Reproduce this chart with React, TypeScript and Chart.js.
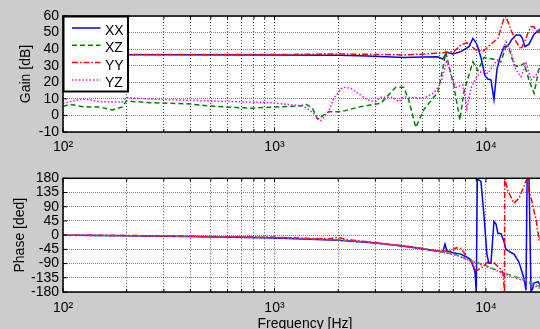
import React, { useEffect, useRef } from "react";
import { Chart, registerables } from "chart.js";

Chart.register(...registerables);

// ---------- data ----------
const FREQ_TICKS = [100, 200, 300, 400, 500, 600, 700, 800, 900, 1000, 2000, 3000, 4000, 5000, 6000, 7000, 8000, 9000, 10000, 20000];
const GAIN_TICKS = [-10, 0, 10, 20, 30, 40, 50, 60];
const PHASE_TICKS = [-180, -135, -90, -45, 0, 45, 90, 135, 180];
const SERIES_NAMES = ["XX", "XZ", "YY", "YZ"];

// Gain [dB]
const gainFreqXX = [100, 300, 1000, 2000, 2760, 4090, 5000, 5920, 6250, 6535, 6977, 7614, 8306, 8678, 8967, 9165, 9469, 9892, 10220, 10561, 10914, 11277, 11652, 12170, 12714, 13280, 13873, 14491, 14810, 15300, 15982, 16880, 18225, 19245];
const gainXX = [36.6, 36.6, 36.5, 36.3, 35.9, 35.0, 35.3, 35.4, 34.0, 38.1, 37.1, 38.5, 41.5, 46.5, 44, 41, 35, 24, 22, 21.5, 9.5, 28, 35, 41.5, 42, 46, 48.5, 48.5, 47, 41.5, 43, 49, 52.5, 55];

const gainFreqXZ = [100, 108, 124, 150, 171, 190, 199, 258, 400, 497, 770, 957, 1328, 1403, 1514, 1599, 1803, 2055, 2556, 3180, 3745, 4087, 4316, 4658, 5084, 5923, 6254, 6462, 7053, 7532, 7867, 8678, 9165, 9783, 10914, 11778, 12438, 12853, 13572, 14334, 15135, 15982, 16880, 17834, 19245];
const gainXZ = [5.3, 6.7, 5.3, 5.0, 3.3, 5.0, 8.7, 7.7, 6.9, 5.7, 4.3, 5.0, 5.7, 6.9, 4.3, -2.3, 2.2, 2.2, 5.3, 7.3, 17, 17, 9.3, -7.2, 3.5, 14, 28.4, 37.9, 17.7, -2.8, 14.3, 32.4, 27, 35, 33.9, 32.4, 41.5, 40.5, 30.4, 29.4, 31.4, 21.4, 13.3, 28.4, 30];

const gainFreqYY = [100, 1000, 1990, 3000, 4090, 5920, 7053, 7614, 8128, 8490, 8967, 9783, 10561, 11400, 12170, 12438, 13136, 13873, 14650, 15300, 15810, 16337, 16880, 17641, 18225, 19245];
const gainYY = [36.8, 36.7, 37.1, 36.8, 36.5, 37.5, 38.5, 42.5, 43.9, 42, 39.5, 39, 43, 46.5, 58.6, 59.6, 51.5, 44.5, 40, 45, 50, 53.5, 53.5, 49.5, 51.5, 50];

const gainFreqYZ = [100, 124, 150, 190, 199, 258, 450, 957, 1372, 1530, 1652, 1803, 1904, 2101, 2292, 2759, 3011, 3180, 3624, 3870, 4087, 4558, 5084, 5670, 6119, 6535, 6826, 7209, 7782, 8128, 8490, 8967, 9469, 10220, 11155, 11778, 12438, 13136, 13873, 14650, 15467, 16337, 17258, 18027, 19245];
const gainYZ = [7.3, 10, 8.3, 8, 10.7, 9.9, 8.9, 7.7, 5.7, 1.3, -3.2, 2.2, 10.3, 17, 16.4, 9.3, 8.3, 11, 11, 8.3, 11, 10.7, 10.3, 13.7, 19.4, 33.5, 24.4, 17, 18.4, 4.3, 16.4, 22.4, 26.4, 25.4, 32.4, 35.4, 44.5, 38.5, 27.4, 23.4, 31.4, 21.4, 24.4, 28.4, 26];

// Phase [deg]
const phaseFreqXX = [100, 200, 450, 1000, 2000, 3000, 4087, 5000, 5923, 6254, 6400, 6535, 7000, 7614, 8128, 8490, 8870, 9000, 9100, 9469, 9783, 10110, 10333, 10561, 10914, 11155, 11400, 11778, 12170, 12438, 13136, 13572, 14334, 15135, 15467, 15650, 15982, 16337, 16600, 16880, 17641, 18225, 19245];
const phaseXX = [0, -2, -5, -9, -16, -25, -35, -43, -51, -53, -28, -50, -56, -60, -70, -78, -115, -178, 178, 170, 64, -62, -89, -89, 43, 35, 5, 5, -20, -45, -55, -60, -86, -137, -175, 178, 178, -178, -170, -152, -147, -163, -165];

const phaseFreqXZ = [100, 200, 450, 1000, 2000, 3000, 4087, 5000, 5923, 7200, 8490, 9783, 11000, 12170, 13500, 15135, 16880, 18225, 20000];
const phaseXZ = [0, -1.5, -4, -7, -15, -24, -34, -42, -50, -62, -80, -94, -108, -119, -130, -140, -155, -165, -174];

const phaseFreqYY = [100, 200, 450, 1000, 1800, 1990, 2200, 3000, 4087, 5000, 5923, 6826, 7209, 7614, 7867, 8128, 8490, 8967, 9266, 9783, 10220, 10914, 11155, 11778, 12038, 12170, 12250, 12270, 12714, 13572, 14334, 15135, 15467, 15810, 15982, 16337, 16880, 17258, 17834, 18225, 19245];
const phaseYY = [0, -1, -4, -7, -12, -7, -14, -24, -34, -42, -50, -50, -40, -42, -55, -70, -84, -113, -108, -98, -84, -86, -94, -108, -120, -158, -179, 179, 140, 101, 117, 155, 172, 175, 135, 120, 75, 50, -18, 0, -20];

const phaseFreqYZ = [100, 200, 450, 1000, 2000, 3000, 4087, 5000, 5923, 7200, 8490, 9783, 11000, 12170, 13500, 15135, 16880, 18225, 20000];
const phaseYZ = [0, -1.5, -4, -7, -15, -24, -35, -43, -51, -63, -82, -96, -110, -122, -134, -144, -160, -170, -178];

// ---------- styles ----------
const FONT = "'Liberation Sans', Arial, Helvetica, sans-serif";
const STYLES = [
  { color: "#0000ff", dash: [] as number[] },
  { color: "#008000", dash: [5, 3] },
  { color: "#ff0000", dash: [6, 2, 1.5, 2] },
  { color: "#ff00ff", dash: [1.5, 2] },
];
const PHASE_GREEN = "#00d000";

const SUP: Record<number, string> = { 100: "10\u00b2", 1000: "10\u00b3", 10000: "10\u2074" };

function pts(fs: number[], vs: number[]) {
  return fs.map((f, i) => ({ x: f, y: vs[i] }));
}

function makeDatasets(series: [number[], number[]][], colors: string[]) {
  return series.map(([fs, vs], i) => ({
    label: SERIES_NAMES[i],
    data: pts(fs, vs),
    borderColor: colors[i],
    borderWidth: 1.5,
    borderDash: STYLES[i].dash,
    pointRadius: 0,
    tension: 0,
    fill: false,
    order: 4 - i,
  }));
}

type Deco = {
  id: string;
  yTitle: string;
  yTitleX: number;
  xTitle?: string;
  xTitleX?: number;
  xTitleY?: number;
  legend?: boolean;
};

function decoPlugin(d: Deco) {
  return {
    id: d.id,
    beforeDraw(chart: any) {
      const { ctx, chartArea: a } = chart;
      ctx.save();
      ctx.fillStyle = "#ffffff";
      ctx.fillRect(a.left, a.top, a.right - a.left, a.bottom - a.top);
      ctx.restore();
    },
    afterDatasetsDraw(chart: any) {
      const { ctx, chartArea: a, scales } = chart;
      ctx.save();
      ctx.setLineDash([]);
      ctx.strokeStyle = "#000";
      ctx.lineWidth = 1;
      ctx.beginPath();
      scales.x.ticks.forEach((t: any) => {
        const px = scales.x.getPixelForValue(t.value);
        const len = SUP[t.value] ? 4 : 3;
        ctx.moveTo(px, a.bottom);
        ctx.lineTo(px, a.bottom - len);
        ctx.moveTo(px, a.top);
        ctx.lineTo(px, a.top + len);
      });
      scales.y.ticks.forEach((t: any) => {
        const py = scales.y.getPixelForValue(t.value);
        ctx.moveTo(a.left, py);
        ctx.lineTo(a.left + 4, py);
        ctx.moveTo(a.right, py);
        ctx.lineTo(a.right - 4, py);
      });
      ctx.stroke();
      ctx.lineWidth = 1.5;
      ctx.strokeRect(a.left, a.top, a.right - a.left, a.bottom - a.top);

      // axis titles
      ctx.fillStyle = "#000";
      ctx.font = `14px ${FONT}`;
      ctx.textAlign = "center";
      ctx.textBaseline = "alphabetic";
      ctx.save();
      ctx.translate(d.yTitleX, (a.top + a.bottom) / 2);
      ctx.rotate(-Math.PI / 2);
      ctx.fillText(d.yTitle, 0, 0);
      ctx.restore();
      if (d.xTitle) {
        ctx.fillText(d.xTitle, d.xTitleX as number, d.xTitleY as number);
      }

      // legend
      if (d.legend) {
        const bx = a.left + 0.5;
        const by = a.top + 0.5;
        const bw = 64.5;
        const bh = 75;
        ctx.fillStyle = "#fff";
        ctx.fillRect(bx, by, bw, bh);
        ctx.lineWidth = 2;
        ctx.strokeStyle = "#000";
        ctx.strokeRect(bx, by, bw, bh);
        ctx.font = `14px ${FONT}`;
        ctx.textAlign = "left";
        ctx.textBaseline = "alphabetic";
        SERIES_NAMES.forEach((name, i) => {
          const ly = by + 11.5 + i * 17.3;
          ctx.strokeStyle = STYLES[i].color;
          ctx.lineWidth = 1.5;
          ctx.setLineDash(STYLES[i].dash);
          ctx.beginPath();
          ctx.moveTo(bx + 8.5, ly);
          ctx.lineTo(bx + 37, ly);
          ctx.stroke();
          ctx.setLineDash([]);
          ctx.fillStyle = "#000";
          ctx.fillText(name, bx + 41.5, ly + 7);
        });
      }
      ctx.restore();
    },
  };
}

function makeConfig(opts: {
  datasets: any[];
  yMin: number;
  yMax: number;
  yTicks: number[];
  padTop: number;
  xHeight: number;
  xPad: number;
  deco: Deco;
}) {
  return {
    type: "line" as const,
    data: { datasets: opts.datasets },
    options: {
      animation: false as const,
      responsive: false,
      events: [] as any[],
      layout: { padding: { top: opts.padTop, right: 50.4, left: 0, bottom: 0 } },
      plugins: { legend: { display: false }, tooltip: { enabled: false } },
      scales: {
        x: {
          type: "logarithmic" as const,
          min: 100,
          max: 20000,
          afterBuildTicks: (s: any) => {
            s.ticks = FREQ_TICKS.map((v) => ({ value: v }));
          },
          afterFit: (s: any) => {
            s.height = opts.xHeight;
          },
          ticks: {
            autoSkip: false,
            maxRotation: 0,
            minRotation: 0,
            padding: opts.xPad,
            color: "#000",
            font: { family: FONT, size: 14 },
            callback: (v: any) => SUP[Number(v)] || "",
          },
          grid: { color: "rgba(0,0,0,0.7)", lineWidth: 1, drawTicks: false },
          border: { display: false, dash: [1, 2] },
        },
        y: {
          type: "linear" as const,
          min: opts.yMin,
          max: opts.yMax,
          afterBuildTicks: (s: any) => {
            s.ticks = opts.yTicks.map((v) => ({ value: v }));
          },
          afterFit: (s: any) => {
            s.width = 63;
          },
          ticks: {
            autoSkip: false,
            padding: 4,
            color: "#000",
            font: { family: FONT, size: 14 },
            callback: (v: any) => String(v),
          },
          grid: { color: "rgba(0,0,0,0.5)", lineWidth: 1, drawTicks: false },
          border: { display: false, dash: [1, 1] },
        },
      },
    },
    plugins: [decoPlugin(opts.deco)],
  };
}

export default function App() {
  const gainRef = useRef<HTMLCanvasElement | null>(null);
  const phaseRef = useRef<HTMLCanvasElement | null>(null);

  useEffect(() => {
    const gainSets = makeDatasets(
      [
        [gainFreqXX, gainXX],
        [gainFreqXZ, gainXZ],
        [gainFreqYY, gainYY],
        [gainFreqYZ, gainYZ],
      ],
      STYLES.map((s) => s.color)
    );
    const phaseSets = makeDatasets(
      [
        [phaseFreqXX, phaseXX],
        [phaseFreqXZ, phaseXZ],
        [phaseFreqYY, phaseYY],
        [phaseFreqYZ, phaseYZ],
      ],
      [STYLES[0].color, PHASE_GREEN, STYLES[2].color, STYLES[3].color]
    );
    const c1 = new Chart(
      gainRef.current as HTMLCanvasElement,
      makeConfig({
        datasets: gainSets,
        yMin: -10,
        yMax: 60,
        yTicks: GAIN_TICKS,
        padTop: 16,
        xHeight: 33,
        xPad: 7,
        deco: { id: "decoGain", yTitle: "Gain [dB]", yTitleX: 30, legend: true },
      }) as any
    );
    const c2 = new Chart(
      phaseRef.current as HTMLCanvasElement,
      makeConfig({
        datasets: phaseSets,
        yMin: -180,
        yMax: 180,
        yTicks: PHASE_TICKS,
        padTop: 13.3,
        xHeight: 37,
        xPad: 8,
        deco: {
          id: "decoPhase",
          yTitle: "Phase [ded]",
          yTitleX: 23.5,
          xTitle: "Frequency [Hz]",
          xTitleX: 305,
          xTitleY: 163,
        },
      }) as any
    );
    return () => {
      c1.destroy();
      c2.destroy();
    };
  }, []);

  return (
    <div
      style={{
        position: "absolute",
        left: 0,
        top: 0,
        width: 540,
        height: 329,
        overflow: "hidden",
        background: "#cccccc",
      }}
    >
      <canvas
        ref={gainRef}
        width={600}
        height={165}
        style={{ position: "absolute", left: 0, top: 0, width: 600, height: 165 }}
      />
      <canvas
        ref={phaseRef}
        width={600}
        height={164}
        style={{ position: "absolute", left: 0, top: 165, width: 600, height: 164 }}
      />
    </div>
  );
}
